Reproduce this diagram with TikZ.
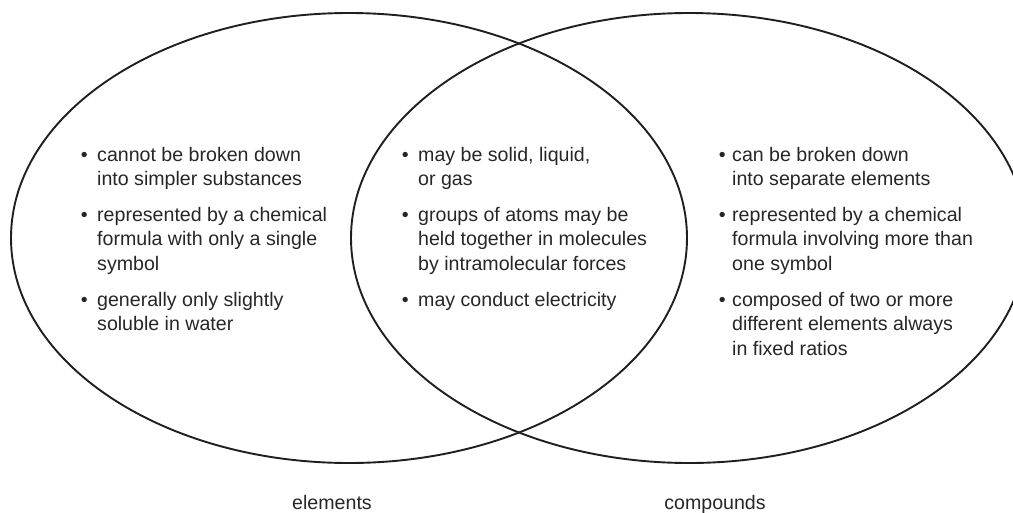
\documentclass[tikz,border=0pt]{standalone}
\usepackage{fontspec}
\setmainfont{Liberation Sans}
% stacked lines whose reference point is the first baseline
\newcommand{\stacklines}[1]{\begin{tabular}[t]{@{}l@{}}#1\end{tabular}}
\begin{document}
\begin{tikzpicture}[x=1pt,y=-1pt,
  ring/.style={draw=black!88, line width=1.9pt},
  txt/.style={inner sep=0pt, anchor=base west, text=black!85,
    font=\fontsize{19.6}{24.7}\selectfont},
  dot/.style={inner sep=0pt, anchor=base east, text=black!85,
    font=\fontsize{19.6}{24.7}\selectfont},
  lbl/.style={inner sep=0pt, anchor=base, text=black!85,
    font=\fontsize{19.6}{24.7}\selectfont}]
\useasboundingbox (0,0) rectangle (1013,512);
\begin{scope}
  \clip (0,0) rectangle (1013,512);
  \draw[ring] (349,238) ellipse [x radius=338, y radius=225];
  \draw[ring] (689,238) ellipse [x radius=338, y radius=225];
\end{scope}

% elements only
\node[dot] (b1) at (88,161) {•};
\node[txt] (t1) at (97,161) {\stacklines{cannot be broken down\\into simpler substances}};
\node[dot] (b2) at (88,221) {•};
\node[txt] (t2) at (97,221) {\stacklines{represented by a chemical\\formula with only a single\\symbol}};
\node[dot] (b3) at (88,306) {•};
\node[txt] (t3) at (97,306) {\stacklines{generally only slightly\\soluble in water}};

% shared properties
\node[dot] (b4) at (409,161) {•};
\node[txt] (t4) at (418,161) {\stacklines{may be solid, liquid,\\or gas}};
\node[dot] (b5) at (409,221) {•};
\node[txt] (t5) at (418,221) {\stacklines{groups of atoms may be\\held together in molecules\\by intramolecular forces}};
\node[dot] (b6) at (409,306) {•};
\node[txt] (t6) at (418,306) {may conduct electricity};

% compounds only
\node[dot] (b7) at (726,161) {•};
\node[txt] (t7) at (732,161) {\stacklines{can be broken down\\into separate elements}};
\node[dot] (b8) at (726,221) {•};
\node[txt] (t8) at (732,221) {\stacklines{represented by a chemical\\formula involving more than\\one symbol}};
\node[dot] (b9) at (726,306) {•};
\node[txt] (t9) at (732,306) {\stacklines{composed of two or more\\different elements always\\in fixed ratios}};

% set names
\node[lbl] (elements) at (332,509) {elements};
\node[lbl] (compounds) at (715,509) {compounds};
\end{tikzpicture}
\end{document}
